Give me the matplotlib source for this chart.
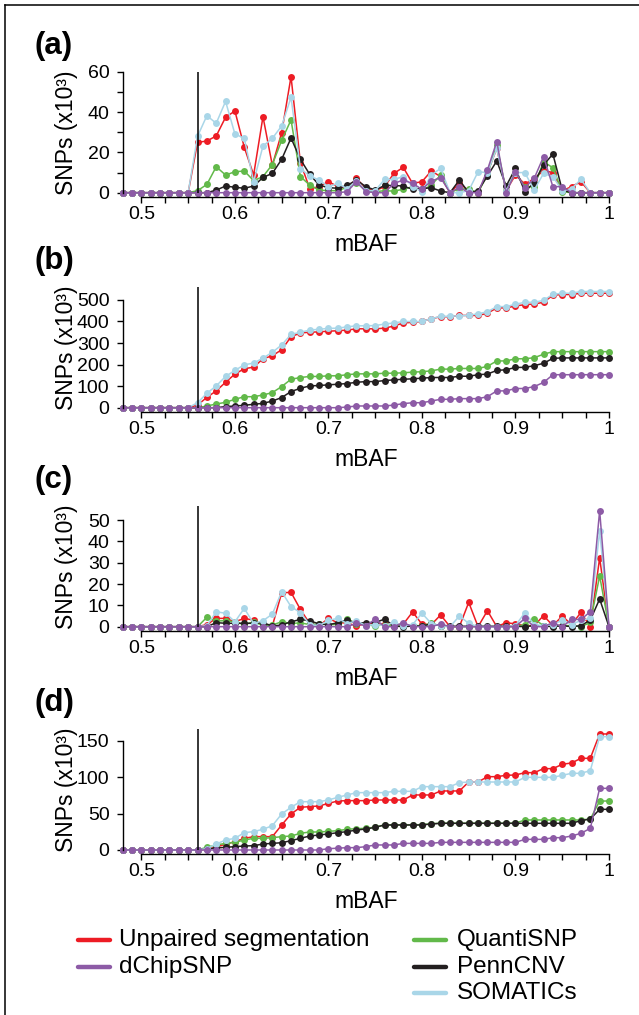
import numpy as np
import matplotlib.pyplot as plt
from matplotlib.lines import Line2D
from matplotlib.ticker import MultipleLocator

plt.rcParams['font.family'] = ['Liberation Sans', 'DejaVu Sans']

# mBAF bins (0.48 ... 1.00)
mbaf = np.round(np.linspace(0.48, 1.0, 53), 2)

# ---- panel (a) ----
red_a = [0, 0, 0, 0, 0, 0, 0, 0, 25, 25.7,
         28.2, 37.5, 40.6, 22.6, 8.8, 37.8, 13.6, 29.9, 57.7, 15,
         2, 3, 5.5, 3, 2, 7.1, 2, 1, 3, 9.6,
         12.6, 4.6, 5.5, 10.8, 8, 0, 4.6, 1, 0, 10,
         22, 1, 8.8, 4.3, 7, 11, 10, 1, 3, 5.5,
         0, 0, 0]
green_a = [0, 0, 0, 0, 0, 0, 0, 0, 1, 4.1,
           12.9, 8.8, 10.4, 10.8, 6, 8, 14, 26, 36.2, 8,
           3.8, 1.3, 1, 1, 2.7, 5, 1, 0.5, 1, 0.8,
           1.7, 3, 1, 3.8, 8.8, 0, 2, 1.7, 0, 9,
           23.7, 1, 10, 3, 3, 15.4, 12.4, 0.5, 0, 0,
           0, 0, 0]
black_a = [0, 0, 0, 0, 0, 0, 0, 0, 0, 0,
           1.3, 3.3, 2.7, 2.2, 3.3, 7.6, 9.6, 16.6, 27.2, 16.6,
           9.1, 3.8, 2.5, 2.2, 3.6, 6.3, 3, 1.3, 3.6, 3.6,
           3.3, 1.7, 2, 2.5, 0.8, 0, 6.3, 0, 1, 8.3,
           15.8, 3.3, 12.1, 0.5, 5, 13.8, 19.2, 1.3, 0, 0,
           0, 0, 0]
blue_a = [0, 0, 0, 0, 0, 0, 0, 0, 28, 38.3,
          34.5, 45.4, 29.2, 27, 5.5, 23.2, 27, 33.2, 47.4, 12,
          8.3, 6.3, 3, 4.6, 2, 6, 1, 1, 6.6, 6.6,
          8, 3, 0.5, 8.8, 12.1, 0, 0, 1, 10.4, 10,
          22, 1, 10, 10, 1.3, 9.6, 8, 1, 2, 6.6,
          0, 0, 0]
purple_a = [0, 0, 0, 0, 0, 0, 0, 0, 0, 0,
            0, 0, 0, 0, 0, 0, 0, 0, 0, 0,
            0, 0, 0, 0, 0.5, 5.5, 0.5, 0, 0, 4.6,
            6.3, 4.6, 1.7, 5.8, 7.5, 0, 2.7, 0, 0, 11.3,
            25.4, 0, 10.4, 2.5, 7.1, 17.9, 3, 3, 0, 0,
            0, 0, 0]

# ---- panel (b) ----
red_b = [0, 0, 0, 0, 0, 0, 0, 0, 12, 48,
         78, 118, 156, 181, 188, 227, 241, 269, 329, 347,
         350, 352, 355, 357, 360, 366, 366, 366, 369, 379,
         393, 396, 400, 413, 422, 422, 428, 428, 428, 438,
         463, 463, 472, 478, 481, 489, 522, 525, 525, 531,
         531, 531, 531]
green_b = [0, 0, 0, 0, 0, 0, 0, 0, 0, 8,
           17, 25, 39, 51, 51, 59, 70, 98, 132, 140,
           145, 145, 148, 148, 153, 157, 157, 157, 160, 160,
           162, 165, 167, 171, 179, 179, 182, 182, 182, 192,
           217, 217, 227, 227, 232, 248, 260, 260, 260, 260,
           260, 260, 260]
black_b = [0, 0, 0, 0, 0, 0, 0, 0, 0, 0,
           0, 5, 8, 11, 16, 20, 31, 47, 75, 90,
           101, 103, 106, 109, 112, 118, 121, 121, 126, 129,
           132, 134, 137, 140, 140, 140, 146, 146, 153, 156,
           173, 176, 187, 187, 195, 206, 229, 231, 231, 231,
           231, 231, 231]
blue_b = [0, 0, 0, 0, 0, 0, 0, 0, 23, 67,
          101, 145, 173, 199, 207, 230, 257, 291, 340, 350,
          360, 364, 368, 369, 375, 380, 380, 381, 388, 393,
          400, 400, 400, 413, 424, 424, 427, 428, 436, 445,
          469, 469, 480, 489, 489, 498, 526, 531, 531, 539,
          539, 539, 539]
purple_b = [0, 0, 0, 0, 0, 0, 0, 0, 0, 0,
            0, 0, 0, 0, 0, 0, 0, 0, 0, 0,
            0, 0, 0, 0, 3, 8, 8, 8, 8, 12,
            19, 23, 23, 31, 39, 39, 42, 42, 42, 51,
            78, 78, 89, 89, 98, 117, 153, 153, 153, 153,
            153, 153, 153]

# ---- panel (c) ----
red_c = [0, 0, 0, 0, 0, 0, 0, 0, 0, 1,
         3.9, 3.9, 2.3, 3.9, 3.1, 0.8, 0.3, 15.9, 16.1, 8.1,
         1.5, 0.5, 3.9, 1.8, 1.8, 0.3, 1.5, 1.5, 1.2, 1,
         1.2, 6.9, 1.2, 1, 5.5, 0, 0, 11.4, 0, 7.5,
         0, 1.9, 1.3, 0.5, 0.5, 5.2, 0.5, 5, 1, 6.7,
         0, 32.3, 0]
green_c = [0, 0, 0, 0, 0, 0, 0, 0, 0, 4.4,
           2.7, 2.8, 2.3, 1, 2.3, 0.5, 0.8, 2.3, 1.5, 1.8,
           1, 1.3, 1, 1, 3.6, 1.5, 1, 0.3, 1, 0.5,
           0.5, 0.5, 0.5, 1.6, 0.3, 0, 0, 0, 0, 0,
           0, 0, 0, 1, 3.6, 0.5, 0.5, 0.5, 0.5, 0,
           2, 23.8, 0]
black_c = [0, 0, 0, 0, 0, 0, 0, 0, 0, 0,
           1.9, 1.6, 1.6, 1.6, 1.6, 1.9, 0.3, 0.8, 2.3, 3.4,
           2.8, 1.3, 0.9, 1.9, 3.1, 1.6, 1.9, 1.9, 3.6, 0.3,
           0, 0.3, 0.3, 1.3, 0.5, 0.2, 0.2, 0.2, 0.2, 0.2,
           0.2, 0.2, 0.2, 0, 0.5, 0.3, 0, 0.5, 0, 0.5,
           3.1, 13, 0]
blue_c = [0, 0, 0, 0, 0, 0, 0, 0, 0, 0.5,
          7, 6.3, 2.3, 8.6, 1.5, 2.8, 5.9, 16.4, 9.4, 6.6,
          1, 0.5, 3, 3.9, 1.5, 2.8, 0.5, 1, 0.5, 2,
          0.5, 1, 6.3, 1.5, 0.5, 0, 5, 1.6, 0, 0,
          0, 0, 0.5, 6.6, 1, 0.5, 1, 3.1, 1, 3,
          4, 45, 0]
purple_c = [0, 0, 0, 0, 0, 0, 0, 0, 0, 0,
            0, 0, 0, 0, 0, 0, 0, 0, 0, 0,
            0, 0, 0, 0, 0, 1.6, 0.3, 3.6, 0, 0,
            1.9, 0, 0, 0, 1.3, 0, 0, 0, 0, 0,
            0, 0, 0, 3.9, 0, 0, 1.9, 0, 3.4, 3.4,
            7, 54.4, 0]

# ---- panel (d) ----
red_d = [0, 0, 0, 0, 0, 0, 0, 0, 0, 1,
         4, 8, 11.4, 16, 18.3, 18.3, 18.3, 34.3, 49.4, 58.6,
         59.5, 60.4, 64, 67.2, 67.7, 67.7, 67.7, 68.6, 68.6, 68.6,
         68.6, 75.5, 75.5, 75.5, 81, 81, 81, 93.3, 93.3, 100.6,
         100.6, 102.5, 102.9, 106.1, 106.1, 111.6, 111.6, 117.6, 119.4, 125.8,
         125.8, 159.2, 159.2]
green_d = [0, 0, 0, 0, 0, 0, 0, 0, 0, 3.7,
           6.9, 9.1, 10.5, 13.7, 16, 16, 16.9, 18.3, 19.2, 22.9,
           24.7, 24.7, 25.6, 26.5, 28.4, 29.3, 29.7, 31.5, 34.5, 34.5,
           34.5, 34.5, 34.8, 36, 36.8, 36.8, 36.8, 36.8, 36.8, 36.8,
           36.8, 36.8, 36.8, 41.2, 41.2, 41.2, 41.2, 41.2, 41.2, 41.2,
           42.5, 67.2, 67.2]
black_d = [0, 0, 0, 0, 0, 0, 0, 0, 0, 1.4,
           2.7, 3.7, 4.6, 5.5, 5.9, 8.2, 9.1, 10, 12.8, 16,
           19.2, 20.6, 22, 23.8, 25.2, 27.4, 28.8, 31.1, 34.3, 34.3,
           34.3, 34.3, 34.3, 35.7, 36.6, 36.6, 36.6, 36.6, 36.6, 36.6,
           36.6, 36.6, 36.6, 36.6, 36.6, 36.6, 36.6, 36.6, 36.6, 40.3,
           42.5, 55.8, 55.8]
blue_d = [0, 0, 0, 0, 0, 0, 0, 0, 0, 2,
          8.2, 13.7, 16, 23.8, 25.2, 28.4, 33.4, 49.4, 58.6, 66.3,
          66.3, 66.3, 68.6, 72.3, 75.5, 78.7, 78.7, 78.7, 78.7, 80.5,
          80.5, 80.5, 86.9, 86.9, 86.9, 86.9, 92.4, 93.3, 93.3, 93.3,
          93.3, 93.3, 93.3, 99.7, 99.7, 99.7, 99.7, 102.5, 105.2, 105.2,
          108.9, 155.5, 155.5]
purple_d = [0, 0, 0, 0, 0, 0, 0, 0, 0, 0,
            0, 0, 0, 0, 0, 0, 0, 0, 0, 0,
            0, 0, 1.8, 2.5, 3.2, 3.2, 4.6, 6.9, 6.9, 6.9,
            9.1, 9.1, 9.1, 9.1, 10.5, 10.5, 10.5, 10.5, 10.5, 10.5,
            10.5, 10.5, 10.5, 14.6, 14.6, 14.6, 16.9, 16.9, 19.2, 22.9,
            29.7, 84.6, 84.6]

methods = ['Unpaired segmentation', 'QuantiSNP', 'PennCNV', 'SOMATICs', 'dChipSNP']
colors = {'Unpaired segmentation': '#ED1C24', 'QuantiSNP': '#62B94A',
          'PennCNV': '#231F20', 'SOMATICs': '#A9D6E8', 'dChipSNP': '#8D5BA6'}

panels = [
    ('(a)', [red_a, green_a, black_a, blue_a, purple_a], 60, 20, 10),
    ('(b)', [red_b, green_b, black_b, blue_b, purple_b], 500, 100, None),
    ('(c)', [red_c, green_c, black_c, blue_c, purple_c], 50, 10, None),
    ('(d)', [red_d, green_d, black_d, blue_d, purple_d], 150, 50, None),
]
# pixel position of the zero line of each panel
zero_px = [192.7, 407.7, 626.7, 850.0]
# y value at the top of each (120.7 px tall) axes
ytop = [60, 560, 56.6, 165.6]

W, H = 639, 1015
fig = plt.figure(figsize=(W / 100, H / 100), dpi=100)

ax_h = 120.7 / H
ax_l = 122.7 / W
ax_w = (609 - 122.7) / W

for i, (lab, series, top, step, minor) in enumerate(panels):
    ax = fig.add_axes([ax_l, 1 - zero_px[i] / H, ax_w, ax_h])
    for name, vals in zip(methods, series):
        ax.plot(mbaf, vals, color=colors[name], lw=1.1, marker='o', ms=5,
                mew=0, clip_on=False)
    ax.axvline(0.56, color='black', lw=1.1)

    ax.set_xlim(0.48, 1.0)
    ax.set_ylim(0, ytop[i])
    for s in ['top', 'right']:
        ax.spines[s].set_visible(False)
    ax.spines['left'].set_bounds(0, top)
    ax.spines['bottom'].set_bounds(0.5, 1.0)
    ax.spines['bottom'].set_position(('outward', 3))
    for s in ['left', 'bottom']:
        ax.spines[s].set_linewidth(1.0)

    ax.set_xticks([0.5, 0.6, 0.7, 0.8, 0.9, 1.0])
    ax.set_xticklabels(['0.5', '0.6', '0.7', '0.8', '0.9', '1'])
    ax.xaxis.set_minor_locator(MultipleLocator(0.025))
    ax.set_yticks(np.arange(0, top + 1, step))
    if minor:
        ax.yaxis.set_minor_locator(MultipleLocator(minor))
    ax.tick_params(which='both', direction='out', length=4, width=1.0,
                   labelsize=14, color='black')
    ax.tick_params(axis='x', pad=2.5)
    ax.tick_params(axis='y', pad=5.5)

    ax.set_xlabel('mBAF', fontsize=16.5)
    ax.xaxis.set_label_coords(0.5, -0.33)
    ax.set_ylabel('SNPs (x10³)', fontsize=16.5)
    ax.yaxis.set_label_coords(-0.092, 0.5)

    fig.text(35 / W, 1 - (zero_px[i] - 120.7 - 26) / H, lab, fontsize=22.5,
             fontweight='bold', ha='left', va='center')

# frame lines (left and top)
fig.add_artist(Line2D([5 / W, 5 / W], [0, 1 - 5 / H], color='black', lw=1.1))
fig.add_artist(Line2D([5 / W, 1], [1 - 5 / H, 1 - 5 / H], color='black', lw=1.1))

# legend: two columns, drawn entry by entry
left_names = ['Unpaired segmentation', 'dChipSNP']
right_names = ['QuantiSNP', 'PennCNV', 'SOMATICs']
row_y = [940, 967, 993]
for names, hx, tx in [(left_names, 78, 119), (right_names, 414, 457)]:
    for name, y in zip(names, row_y):
        fy = 1 - y / H
        fig.add_artist(Line2D([hx / W, (hx + 32) / W], [fy, fy], color=colors[name],
                              lw=3.2, solid_capstyle='round'))
        fig.text(tx / W, fy, name, fontsize=17.5, ha='left', va='center')

fig.savefig('out.png', dpi=100)
